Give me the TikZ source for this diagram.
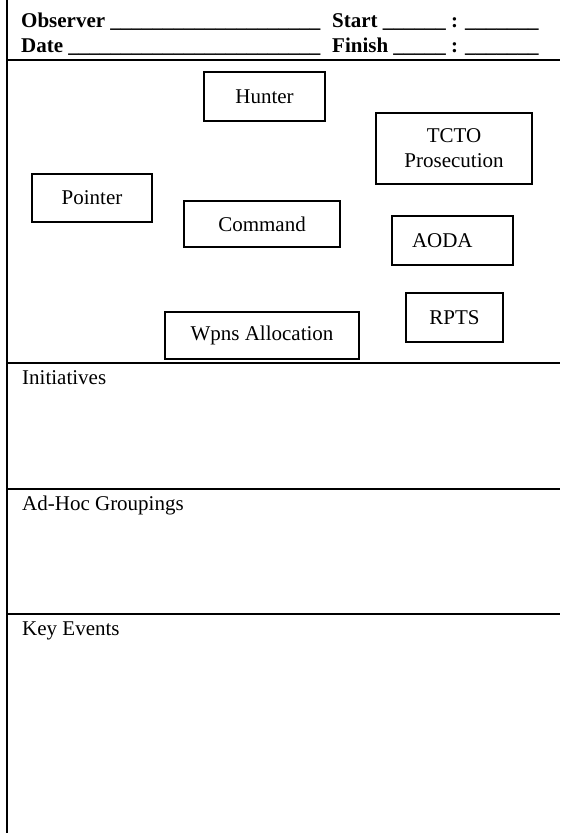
\documentclass[tikz,border=0pt]{standalone}
\usepackage{fontspec}
\setmainfont{Liberation Serif}
\usetikzlibrary{positioning}

\begin{document}
\begin{tikzpicture}[x=1pt,y=-1pt,
    every node/.style={font=\fontsize{21}{25}\selectfont, inner sep=0pt},
    headtext/.style={font=\fontsize{21}{25}\selectfont\bfseries, anchor=base west},
    sectiontext/.style={anchor=base west},
    rolebox/.style={draw=black, line width=1.3pt, align=center}]
            \useasboundingbox (0,0) rectangle (560,833);
            % form rules
            \draw [black, line width=2pt] (7,0) -- (7,833);
            \draw [black, line width=2pt] (7,60) -- (560,60);
            \draw [black, line width=2pt] (7,363) -- (560,363);
            \draw [black, line width=2pt] (7,489) -- (560,489);
            \draw [black, line width=2pt] (7,614) -- (560,614);
            % header
            \node [headtext] (observer) at (21,27) {Observer \_\_\_\_\_\_\_\_\_\_\_\_\_\_\_\_\_\_\_\_};
            \node [headtext] (date) at (21,52) {Date \_\_\_\_\_\_\_\_\_\_\_\_\_\_\_\_\_\_\_\_\_\_\_\_};
            \node [headtext] (start) at (332,27) {Start \_\_\_\_\_\_ : \_\_\_\_\_\_\_};
            \node [headtext] (finish) at (332,52) {Finish \_\_\_\_\_ : \_\_\_\_\_\_\_};
            % roles
            \node [rolebox, minimum width=121pt, minimum height=49pt] (hunter) at (264.5,96.5) {Hunter};
            \node [rolebox, minimum width=156pt, minimum height=71pt] (tcto) at (454,148.5) {TCTO\\Prosecution};
            \node [rolebox, minimum width=120pt, minimum height=48pt] (pointer) at (92,198) {Pointer};
            \node [rolebox, minimum width=156pt, minimum height=46pt] (command) at (262,224) {Command};
            \node [rolebox, minimum height=49pt, text width=81pt, align=left, inner xsep=20pt] (aoda) at (452.5,240.5) {AODA};
            \node [rolebox, minimum width=97pt, minimum height=49pt] (rpts) at (454.5,317.5) {RPTS};
            \node [rolebox, minimum width=194pt, minimum height=47pt] (wpns) at (262,335.5) {Wpns Allocation};
            % sections
            \node [sectiontext] (initiatives) at (22,384) {Initiatives};
            \node [sectiontext] (adhoc) at (22,510) {Ad-Hoc Groupings};
            \node [sectiontext] (keyevents) at (22,635) {Key Events};
\end{tikzpicture}
\end{document}
